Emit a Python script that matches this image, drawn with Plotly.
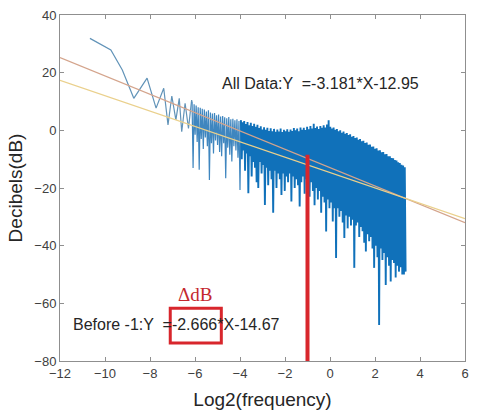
import numpy as np
import plotly.graph_objects as go

# ---------------- data ----------------
# sparse low-frequency part of the spectrum (log2 frequency, dB)
low_x = [-10.67, -9.74, -9.23, -8.72, -8.13, -7.73, -7.39, -7.20, -7.03, -6.85,
         -6.70, -6.59, -6.44, -6.29, -6.15]
low_y = [31.9, 27.9, 20.9, 11.1, 18.1, 7.7, 14.6, 1.9, 11.9, 3.6,
         11.1, -0.5, 9.4, 0.7, 10.5]

# medium-density part: alternating peaks / troughs between these log2 f limits
mid_span = [-6.13, -4.0]
mid_top = [9.8, 9.0, 8.6, 8.0, 7.8, 7.5, 7.2, 6.5, 7.0, 6.2, 5.8, 6.0,
           5.2, 5.5, 4.8, 5.0, 4.5, 4.2, 4.6, 3.8, 4.0, 3.5, 3.8, 3.2]
mid_bot = [-13.1, -1.5, -4.0, -13.7, -3.0, -6.5, -2.5, -5.5, -17.2, -4.5, -8.0, -3.5,
           -5.1, -7.5, -9.0, -4.5, -16.6, -6.0, -8.5, -10.8, -5.5, -7.0, -9.5, -20.7]

# dense high-frequency part: alternating peaks / troughs
dense_span = [-3.96, 3.36]
dense_top = [3.5, 2.8, 3.2, 2.2, 2.9, 1.8, 2.6, 1.5, 2.3, 1.2,
             1.9, 0.8, 1.4, 0.3, 1.1, 0.2, 0.9, -0.2, 0.7, -0.3,
             0.5, -0.5, 0.3, -0.4, 0.6, -0.6, 0.2, -0.3, 0.4, -0.5,
             0.3, -0.2, 0.8, 0.0, 0.6, -0.3, 1.0, 0.2, 0.9, 0.1,
             1.2, 0.4, 1.5, 0.6, 2.3, 0.8, 1.3, 0.5, 1.5, 0.9,
             1.8, 1.0, 2.0, 3.5, 1.2, 0.6, 1.0, 0.2, 0.5, -0.3,
             0.0, -0.8, -0.4, -1.2, -0.9, -1.6, -1.4, -2.2, -2.0, -2.7,
             -2.5, -3.3, -3.0, -3.8, -3.6, -4.4, -4.2, -5.0, -4.9, -5.7,
             -5.6, -6.4, -6.2, -7.0, -6.9, -7.6, -7.5, -8.3, -8.2, -9.0,
             -9.0, -9.6, -9.7, -10.3, -10.5, -11.1, -11.3, -11.9, -12.2, -12.8]
dense_bot = [-10, -7, -14, -8, -21.8, -9, -16, -11, -13, -18,
             -20, -11, -15, -12, -25.9, -13, -19, -14, -17, -28.6,
             -14, -20, -15, -17, -22.4, -15, -21, -16, -18, -15,
             -24.7, -16, -20, -17, -19, -26.4, -18, -16, -22, -17,
             -19, -23, -18, -21, -26, -20, -24, -21, -28.6, -23,
             -25, -35.1, -24, -27, -25, -31.6, -27, -44.3, -27, -30,
             -28, -32, -37.3, -29.5, -34, -30, -33, -31, -47.7, -33,
             -32, -37, -33.5, -35, -39, -42, -36, -38.5, -37, -41,
             -47.7, -40, -44, -67.5, -41, -45, -42.5, -53.6, -44, -47,
             -52.4, -45, -46, -51, -47, -49, -47.5, -50, -50, -49]

# linear fits shown on the chart (slope, intercept)
fit_all = [-3.181, -12.95]
fit_before = [-2.666, -14.67]
x_limits = [-12, 6]
y_limits = [-80, 40]

# cutoff marker at log2 f = -1
cutoff_x = -1
cutoff_top = -8.5

# ---------------- build series ----------------
def interleave(tops, bots):
    out = []
    for t, b in zip(tops, bots):
        out += [t, b]
    return out

mid_y = interleave(mid_top, mid_bot)
mid_x = np.linspace(mid_span[0], mid_span[1], len(mid_y))
dense_y = interleave(dense_top, dense_bot)
dense_x = np.linspace(dense_span[0], dense_span[1], len(dense_y))

fx = np.array(x_limits, dtype=float)

fig = go.Figure()
fig.add_trace(go.Scatter(x=list(low_x) + [mid_x[0]], y=list(low_y) + [mid_y[0]], mode="lines",
                         line=dict(color="#6193b8", width=1.2, simplify=False), showlegend=False))
fig.add_trace(go.Scatter(x=list(mid_x) + [dense_x[0]], y=list(mid_y) + [dense_y[0]], mode="lines",
                         line=dict(color="#3f86bf", width=1.2, simplify=False), showlegend=False))
fig.add_trace(go.Scatter(x=dense_x, y=dense_y, mode="lines",
                         line=dict(color="#1071ba", width=1.9, simplify=False), showlegend=False))
fig.add_trace(go.Scatter(x=fx, y=fit_all[0] * fx + fit_all[1], mode="lines",
                         line=dict(color="#d4a48c", width=1.3), showlegend=False))
fig.add_trace(go.Scatter(x=fx, y=fit_before[0] * fx + fit_before[1], mode="lines",
                         line=dict(color="#ead08c", width=1.3), showlegend=False))
fig.add_trace(go.Scatter(x=[cutoff_x, cutoff_x], y=[y_limits[0], cutoff_top], mode="lines",
                         line=dict(color="#d8262c", width=4), showlegend=False))

font_main = "Liberation Sans, Arial, sans-serif"

fig.add_annotation(x=-4.9, y=16.3, xref="x", yref="y", xanchor="left", yanchor="middle",
                   text="All Data:Y \u00a0=-3.181*X-12.95", showarrow=False,
                   font=dict(family=font_main, size=16, color="#262626"))
fig.add_annotation(x=-11.51, y=-67.45, xref="x", yref="y", xanchor="left", yanchor="middle",
                   text="Before -1:Y \u00a0=-2.666*X-14.67", showarrow=False,
                   font=dict(family=font_main, size=16, color="#262626"))
fig.add_annotation(x=-5.98, y=-56.8, xref="x", yref="y", xanchor="center", yanchor="middle",
                   text="\u0394dB", showarrow=False,
                   font=dict(family="Liberation Serif, DejaVu Serif, serif", size=19, color="#c4282e"))
fig.add_shape(type="rect", xref="x", yref="y", x0=-7.10, x1=-4.83, y0=-73.8, y1=-61.7,
              line=dict(color="#d8262c", width=3))

axis_common = dict(showline=True, mirror="ticks", linecolor="#8f8f8f", linewidth=1,
                   ticks="inside", ticklen=4, tickcolor="#8f8f8f",
                   showgrid=False, zeroline=False,
                   tickfont=dict(family=font_main, size=13, color="#404040"))

fig.update_xaxes(range=x_limits, dtick=2, tick0=-12,
                 title=dict(text="Log2(frequency)", standoff=13,
                            font=dict(family=font_main, size=19, color="#262626")),
                 **axis_common)
fig.update_yaxes(range=y_limits, dtick=20, tick0=-80,
                 title=dict(text="Decibels(dB)", standoff=6,
                            font=dict(family=font_main, size=19, color="#262626")),
                 **axis_common)

fig.update_layout(width=477, height=415, margin=dict(l=60, r=8, t=15, b=54),
                  plot_bgcolor="white", paper_bgcolor="white")

fig.write_html("out.html")
